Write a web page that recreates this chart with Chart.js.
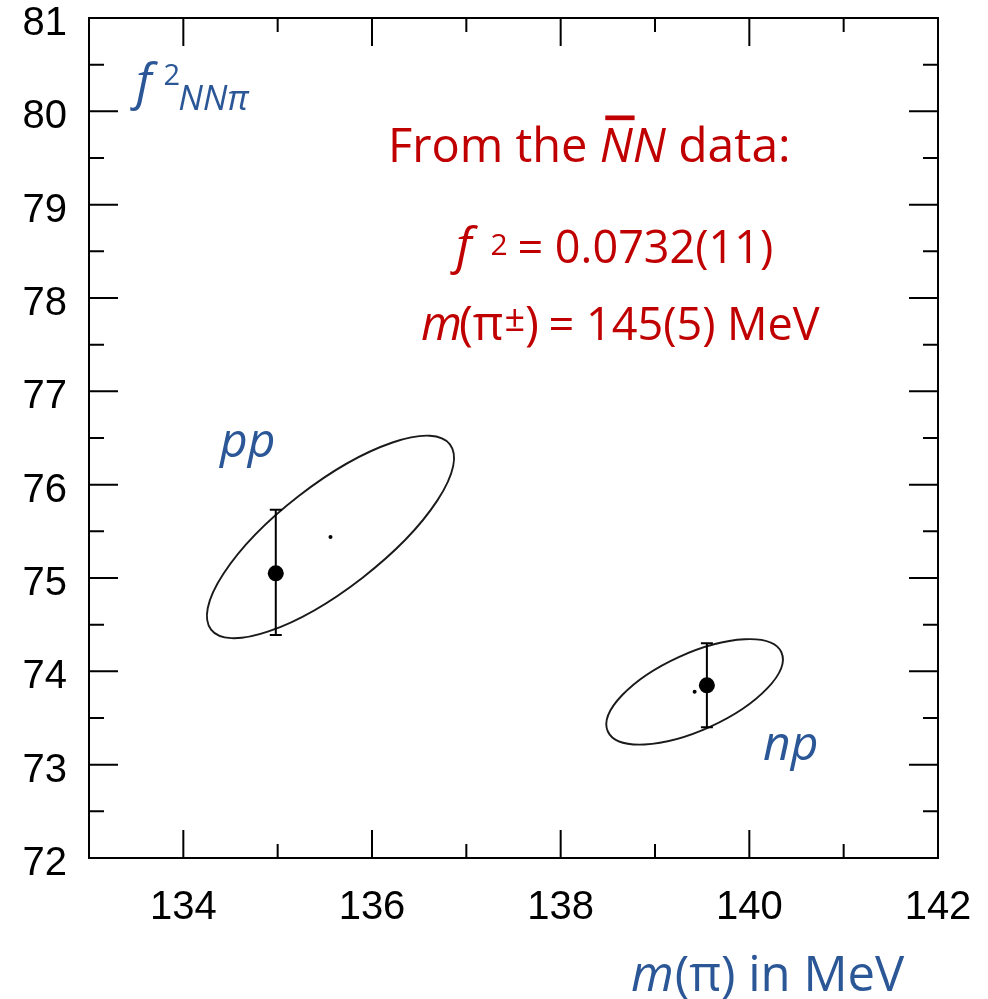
<!DOCTYPE html>
<html>
<head>
<meta charset="utf-8">
<script src="https://cdn.jsdelivr.net/npm/chart.js@4.4.0/dist/chart.umd.min.js"></script>
<style>
  html, body { margin: 0; padding: 0; background: #fff; }
  canvas { display: block; }
</style>
</head>
<body>
<canvas id="chart" width="988" height="999"></canvas>
<script>
// --- pion-nucleon coupling fits (f^2 x 1000 vs pion mass in MeV) ---
const fitLabels = ['pp', 'np'];
const fitMass = [134.98, 139.55];      // fit with the pion mass held fixed
const fitCoupling = [75.05, 73.85];
const fitLow = [74.39, 73.40];
const fitHigh = [75.73, 74.30];

// free fit: centre + 1-sigma contour
const freeMass = [135.56, 139.42];
const freeCoupling = [75.44, 73.78];
const sigmaMass = [1.31, 0.935];
const sigmaCoupling = [1.085, 0.565];
const correlation = [0.78, 0.62];

const xTickLabels = [134, 136, 138, 140, 142];
const xMinorTicks = [135, 137, 139, 141];
const yTickLabels = [72, 73, 74, 75, 76, 77, 78, 79, 80, 81];
const yMinorTicks = [72.5, 73.5, 74.5, 75.5, 76.5, 77.5, 78.5, 79.5, 80.5];

const BLUE = '#2b5797';
const RED = '#c00000';
const TEXT_FONT = '"Open Sans", "Noto Sans", sans-serif';
const TICK_FONT = '"Liberation Sans", Arial, sans-serif';

// draw a row of text pieces (italic / superscript / subscript) from a left anchor
function drawRuns(ctx, x, y, runs, color) {
    let cx = x;
    ctx.fillStyle = color;
    ctx.textAlign = 'left';
    ctx.textBaseline = 'alphabetic';
    runs.forEach(r => {
        ctx.font = (r.italic ? 'italic ' : '') + r.size + 'px ' + TEXT_FONT;
        const w = ctx.measureText(r.text).width;
        ctx.fillText(r.text, cx, y + (r.dy || 0));
        if (r.bar) {
            ctx.fillRect(cx + r.size * 0.12, y - r.size * 0.99, w - r.size * 0.08, r.size * 0.1);
        }
        cx += w + (r.gap || 0);
    });
}

const contourPlugin = {
    id: 'contours',
    afterDatasetsDraw(chart) {
        const { ctx, scales: { x, y } } = chart;
        ctx.save();

        // 1-sigma ellipses, covariance mapped to pixel space
        ctx.strokeStyle = '#1a1a1a';
        ctx.lineWidth = 1.9;
        freeMass.forEach((m, i) => {
            const kx = x.getPixelForValue(m + 1) - x.getPixelForValue(m);
            const ky = y.getPixelForValue(freeCoupling[i] + 1) - y.getPixelForValue(freeCoupling[i]);
            const a = Math.pow(kx * sigmaMass[i], 2);
            const c = Math.pow(ky * sigmaCoupling[i], 2);
            const b = kx * ky * correlation[i] * sigmaMass[i] * sigmaCoupling[i];
            const mid = (a + c) / 2;
            const diff = Math.sqrt(Math.pow((a - c) / 2, 2) + b * b);
            const angle = 0.5 * Math.atan2(2 * b, a - c);
            ctx.beginPath();
            ctx.ellipse(x.getPixelForValue(m), y.getPixelForValue(freeCoupling[i]),
                Math.sqrt(mid + diff), Math.sqrt(mid - diff), angle, 0, Math.PI * 2);
            ctx.stroke();
        });

        // vertical error bars with caps
        ctx.strokeStyle = '#000';
        ctx.lineWidth = 2;
        fitMass.forEach((m, i) => {
            const px = x.getPixelForValue(m);
            const top = y.getPixelForValue(fitHigh[i]);
            const bot = y.getPixelForValue(fitLow[i]);
            ctx.beginPath();
            ctx.moveTo(px, top); ctx.lineTo(px, bot);
            ctx.moveTo(px - 6, top); ctx.lineTo(px + 6, top);
            ctx.moveTo(px - 6, bot); ctx.lineTo(px + 6, bot);
            ctx.stroke();
        });
        ctx.restore();
    },
    afterDraw(chart) {
        const { ctx, chartArea: area, scales: { x, y } } = chart;
        ctx.save();

        // frame
        ctx.strokeStyle = '#000';
        ctx.lineWidth = 2;
        ctx.strokeRect(area.left, area.top, area.right - area.left, area.bottom - area.top);

        // inward ticks on all four sides
        const tick = (x1, y1, x2, y2) => { ctx.moveTo(x1, y1); ctx.lineTo(x2, y2); };
        ctx.beginPath();
        xTickLabels.concat(xMinorTicks).forEach(v => {
            const len = xTickLabels.includes(v) ? 28 : 14;
            const px = x.getPixelForValue(v);
            tick(px, area.bottom, px, area.bottom - len);
            tick(px, area.top, px, area.top + len);
        });
        yTickLabels.concat(yMinorTicks).forEach(v => {
            const len = yTickLabels.includes(v) ? 29 : 15;
            const py = y.getPixelForValue(v);
            tick(area.left, py, area.left + len, py);
            tick(area.right, py, area.right - len, py);
        });
        ctx.stroke();

        // axis title and annotations
        drawRuns(ctx, 136, 99, [
            { text: 'f', italic: true, size: 50, gap: 12 },
            { text: '2', size: 29, dy: -14, gap: -2 },
            { text: 'NN\u03c0', italic: true, size: 35, dy: 11 }
        ], BLUE);

        drawRuns(ctx, 388, 162, [
            { text: 'From the ', size: 47 },
            { text: 'N', italic: true, size: 47, bar: true },
            { text: 'N', italic: true, size: 47 },
            { text: ' data:', size: 48 }
        ], RED);
        drawRuns(ctx, 456, 263, [
            { text: 'f', italic: true, size: 50, gap: 19 },
            { text: '2', size: 30, dy: -8, gap: -2 },
            { text: ' = 0.0732(11)', size: 45 }
        ], RED);
        drawRuns(ctx, 421, 340, [
            { text: 'm', italic: true, size: 47, gap: -3 },
            { text: '(\u03c0', size: 47, gap: 1 },
            { text: '\u00b1', size: 36, dy: -9, gap: 0 },
            { text: ')', size: 47, gap: -2 },
            { text: ' = 145(5) MeV', size: 45 }
        ], RED);

        drawRuns(ctx, 220, 457, [{ text: fitLabels[0], italic: true, size: 48 }], BLUE);
        drawRuns(ctx, 763, 760, [{ text: fitLabels[1], italic: true, size: 48 }], BLUE);

        drawRuns(ctx, 631, 991, [
            { text: 'm', italic: true, size: 49, gap: 1 },
            { text: '(\u03c0) in MeV', size: 49 }
        ], BLUE);
        ctx.restore();
    }
};

new Chart(document.getElementById('chart').getContext('2d'), {
    type: 'scatter',
    data: {
        datasets: [{
            label: 'fixed mass',
            data: fitMass.map((m, i) => ({ x: m, y: fitCoupling[i] })),
            pointRadius: 8,
            pointBackgroundColor: '#000',
            pointBorderWidth: 0
        }, {
            label: 'free fit',
            data: freeMass.map((m, i) => ({ x: m, y: freeCoupling[i] })),
            pointRadius: 2,
            pointBackgroundColor: '#000',
            pointBorderWidth: 0
        }]
    },
    options: {
        responsive: false,
        animation: false,
        events: [],
        layout: { padding: { top: 18, right: 50, left: 0, bottom: 0 } },
        plugins: { legend: { display: false }, tooltip: { enabled: false } },
        scales: {
            x: {
                type: 'linear', min: 133, max: 142, position: 'bottom',
                afterBuildTicks: s => { s.ticks = xTickLabels.map(v => ({ value: v })); },
                afterFit: s => { s.height = 141; s.paddingLeft = 0; s.paddingRight = 0; },
                grid: { display: false, drawTicks: false },
                border: { display: false },
                ticks: {
                    font: { family: TICK_FONT, size: 40 }, color: '#000',
                    padding: 26, maxRotation: 0, autoSkip: false
                }
            },
            y: {
                type: 'linear', min: 72, max: 81, position: 'left',
                afterBuildTicks: s => { s.ticks = yTickLabels.map(v => ({ value: v })); },
                afterFit: s => { s.width = 89; s.paddingTop = 0; s.paddingBottom = 0; },
                grid: { display: false, drawTicks: false },
                border: { display: false },
                ticks: {
                    font: { family: TICK_FONT, size: 40 }, color: '#000',
                    padding: 22, labelOffset: 6, autoSkip: false
                }
            }
        }
    },
    plugins: [contourPlugin]
});
</script>
</body>
</html>
